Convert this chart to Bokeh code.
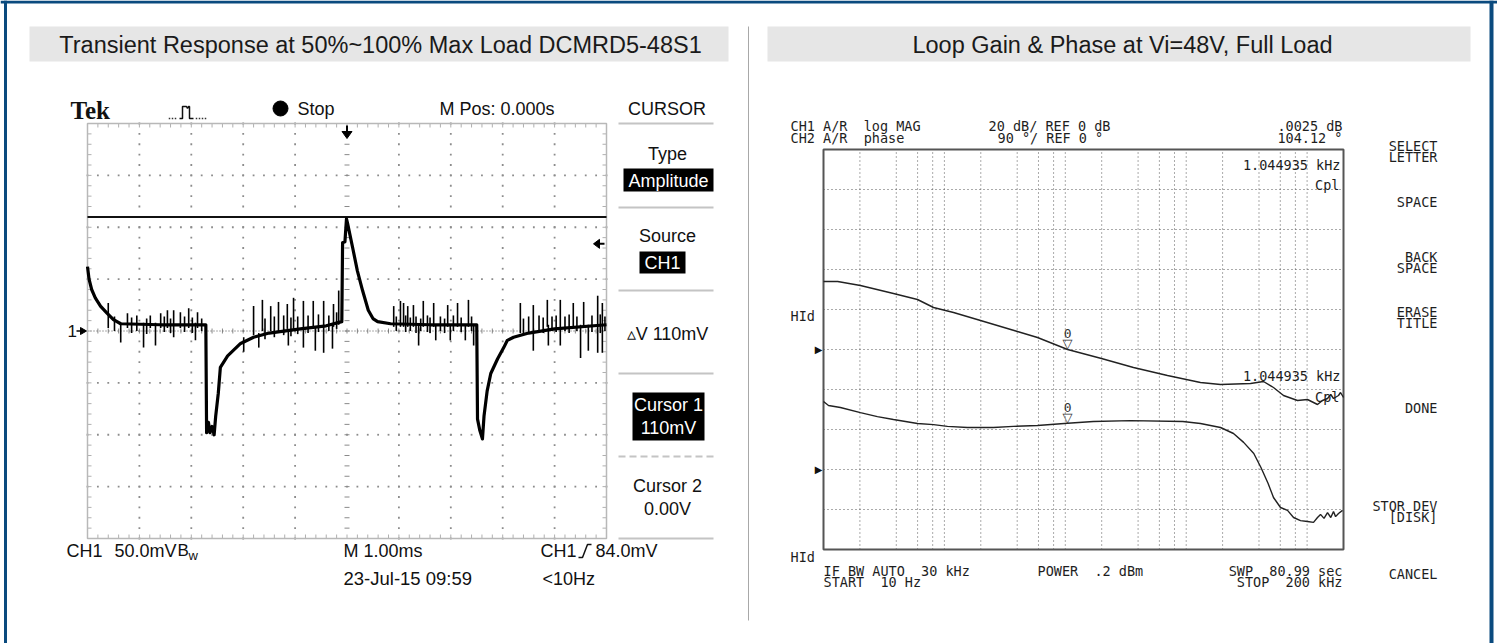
import numpy as np
from bokeh.plotting import figure
from bokeh.models import Range1d, LogScale
from bokeh.core.properties import value
from bokeh.embed import file_html
from bokeh.resources import INLINE

# ======================= DATA =======================
# Left panel: oscilloscope capture (time in ms, 1 ms/div; voltage in mV, 50 mV/div)
scope_time_divs_ms = [-5, -4, -3, -2, -1, 0, 1, 2, 3, 4, 5]
scope_volt_divs_mv = [-200, -150, -100, -50, 0, 50, 100, 150, 200]
scope_time_ms = [-5.00, -4.97, -4.92, -4.85, -4.75, -4.62, -4.50, -4.36, -3.60, -2.72,
                 -2.705, -2.67, -2.64, -2.60, -2.56, -2.53, -2.48, -2.44, -2.30, -2.05,
                 -1.80, -1.50, -0.90, -0.40, -0.10, -0.085, -0.04, -0.01, 0.01, 0.06,
                 0.11, 0.20, 0.30, 0.41, 0.50, 0.59, 0.84, 1.60, 2.50, 2.515,
                 2.56, 2.61, 2.64, 2.70, 2.77, 2.90, 3.02, 3.09, 3.21, 3.50,
                 4.00, 5.00]
scope_mv = [62, 50, 40, 32, 24, 17, 11, 7, 6, 6,
            -98, -88, -98, -92, -100, -82, -60, -35, -24, -12,
            -6, -2, 2, 5, 9, 85, 86, 108, 104, 92,
            80, 58, 39, 20, 12, 9, 7, 6, 6, -85,
            -96, -104, -82, -58, -41, -27, -16, -9, -6, -2,
            2, 6]
# noise spikes on the trace: time, upper and lower extent
spike_time_ms = [-4.60, -4.48, -4.36, -4.23, -4.15, -4.05, -3.92, -3.86, -3.79, -3.69, -3.59, -3.52,
                 -3.46, -3.40, -3.34, -3.21, -3.13, -3.05, -2.98, -2.92, -2.88, -2.80,
                 -1.99, -1.80, -1.70, -1.63, -1.58, -1.47, -1.40, -1.32, -1.22, -1.15, -1.13, -1.08,
                 -1.03, -0.95, -0.84, -0.75, -0.65, -0.61, -0.55, -0.45, -0.35, -0.28, -0.26, -0.20, -0.16,
                 0.90, 0.95, 1.03, 1.09, 1.13, 1.17, 1.22, 1.28, 1.33, 1.38, 1.42, 1.47, 1.55, 1.60,
                 1.67, 1.71, 1.80, 1.88, 1.94, 1.99, 2.05, 2.13, 2.20, 2.28, 2.34, 2.40, 2.44,
                 3.34, 3.40, 3.50, 3.59, 3.70, 3.78, 3.86, 3.88, 3.95, 4.03, 4.11, 4.20, 4.28, 4.36,
                 4.43, 4.50, 4.56, 4.65, 4.72, 4.83, 4.88, 4.92, 4.97]
spike_hi_mv = [27, 14, 8, 17, 13, 15, 8, 12, 15, 8, 17, 14,
               20, 12, 20, 18, 14, 22, 13, 8, 18, 12,
               -6, 24, -2, 30, 12, 24, 14, 28, 15, 26, 2, 13,
               32, 14, 29, 15, 29, 4, 16, 29, 15, 6, 26, 18, 39,
               24, 14, 29, 27, 15, 24, 13, 25, 14, 6, 12, 29, 15, 13,
               27, 6, 14, 12, 25, 6, 15, 27, 13, 6, 30, 14, 6,
               27, 12, 14, 25, 15, 13, 30, 6, 14, 15, 30, 14, 16, 27,
               14, 6, 28, 6, 15, 34, 16, 27, 14]
spike_lo_mv = [3, 0, -11, 3, -2, 0, -16, -3, 3, -14, 3, -1,
               3, -2, -6, 3, -1, 3, -2, -9, 3, 0,
               -20, -4, -16, 0, -8, 0, -6, 0, -4, 2, -14, -5,
               2, -3, -16, -2, 2, -19, -1, -21, 0, -17, 4, 2, 6,
               4, 0, 4, 4, -1, 4, 0, 4, -2, -14, 0, 4, -1, -2,
               4, -9, 0, -2, 4, -9, 0, 4, -1, -9, 4, 0, -14,
               -2, -4, -2, -19, 0, -2, 4, -14, 0, -1, -14, 0, -2, 4,
               0, -26, 4, -19, -1, -21, -2, -21, 0]
cursor1_mv = 110.0
trigger_level_mv = 84.0

# Right panel: loop gain & phase (frequency in Hz)
vna_start_hz = 10
vna_stop_hz = 200000
vna_db_per_div = 20
vna_deg_per_div = 90
vna_freq_grid_hz = [20, 40, 60, 80, 100, 200, 400, 600, 800, 1000, 2000, 4000, 6000, 8000,
                    10000, 20000, 40000, 60000, 80000, 100000]
gain_freq_hz = [10, 13.1, 20.2, 37.9, 59.9, 81.3, 119, 199, 402, 589,
                1045, 1991, 3664, 7000, 13120, 19230, 34040, 43570, 52720, 63800,
                83300, 100700, 121900, 134000, 147500, 157000, 165300, 181800, 189000, 200000]
gain_db = [34, 34, 32, 28, 25, 21, 18.5, 14.5, 9, 6,
           0, -4.5, -9, -13, -16.5, -17.5, -17, -16, -19, -23,
           -25.5, -25, -27.5, -25.5, -24.5, -22.5, -24.5, -23, -21.5, -24]
phase_freq_hz = [10, 11, 13.8, 20.2, 27.9, 37.9, 59.9, 81.3, 106, 155,
                 254, 372, 589, 1045, 1706, 3467, 9383, 13120, 19230, 24620,
                 29850, 36230, 41520, 47600, 52720, 60260, 68870, 77250, 88190, 100700,
                 113000, 121900, 129100, 138000, 147500, 157000, 165300, 172000, 181800, 196300]
phase_deg = [153, 144, 139.5, 128, 119, 112.5, 103.5, 101, 97, 94.5,
             94.5, 97, 99, 104, 108, 110, 108, 103.5, 94.5, 81,
             61, 36, 4.5, -31.5, -63, -85.5, -92, -108, -115, -117,
             -119, -108, -101, -110, -97, -108, -94.5, -106, -99, -92]
marker_freq_hz = 1044.935
marker_gain_db = 0.0025
marker_phase_deg = 104.12

# ======================= LAYOUT =======================
W, H = 1497, 643
BLUE = "#0a4a7e"
SANS = "Liberation Sans"
MONO = "DejaVu Sans Mono"
NB = "\u00a0"

# scope screen placement (pixels)
SC_L, SC_R, SC_T, SC_B = 87, 606, 123, 538
t_span = scope_time_divs_ms[-1] - scope_time_divs_ms[0]
v_span = scope_volt_divs_mv[-1] - scope_volt_divs_mv[0]
t_pp = t_span / (SC_R - SC_L)
v_pp = v_span / (SC_B - SC_T)
sc_row0 = SC_T + scope_volt_divs_mv[-1] / v_pp   # row of 0 mV
t0 = scope_time_divs_ms[0]

# analyzer placement (pixels)
VN_L, VN_R, VN_T, VN_B = 823, 1343, 149, 549
DB_REF_ROW, DEG_REF_ROW = 349, 469
dec_pp = np.log10(vna_stop_hz / vna_start_hz) / (VN_R - VN_L)
db_pp = vna_db_per_div / 40.0
deg_pp = vna_deg_per_div / 40.0

p = figure(width=W, height=H, x_range=Range1d(0, W), y_range=Range1d(H, 0),
           output_backend="svg", toolbar_location=None, min_border=0,
           x_axis_location=None, y_axis_location=None,
           background_fill_color="white", border_fill_color="white",
           outline_line_color=None)
p.grid.visible = False
p.extra_x_ranges = {
    "st": Range1d(t0 - SC_L * t_pp, t0 + (W - SC_L) * t_pp),
    "vf": Range1d(10 ** (np.log10(vna_start_hz) - VN_L * dec_pp),
                  10 ** (np.log10(vna_start_hz) + (W - VN_L) * dec_pp)),
}
p.extra_x_scales = {"vf": LogScale()}
p.extra_y_ranges = {
    "sv": Range1d(-(H - sc_row0) * v_pp, sc_row0 * v_pp),
    "db": Range1d(-(H - DB_REF_ROW) * db_pp, DB_REF_ROW * db_pp),
    "deg": Range1d(-(H - DEG_REF_ROW) * deg_pp, DEG_REF_ROW * deg_pp),
}


def txt(x, y, s, size, font=SANS, color="#111111", align="left", baseline="middle",
        style="normal", xr="default", yr="default", xo=0, yo=0):
    s = s.replace(" ", NB)
    p.text(x=[x], y=[y], text=[s], x_range_name=xr, y_range_name=yr,
           text_font=value(font), text_font_size=f"{size}px", text_color=color,
           text_align=align, text_baseline=baseline, text_font_style=style,
           x_offset=xo, y_offset=yo)


# ---------- page frame ----------
p.line([5, 5], [0, H], line_color=BLUE, line_width=3)
p.line([0, W], [1.5, 1.5], line_color=BLUE, line_width=3)
p.line([1491, 1491], [0, H], line_color=BLUE, line_width=4)
p.quad(left=[29, 767], right=[728, 1470], top=[26, 26], bottom=[61, 61],
       fill_color="#e6e6e6", line_color=None)
txt(380, 44, "Transient Response at 50%~100% Max Load DCMRD5-48S1", 23.5, color="#1a1a1a", align="center")
txt(1122, 44, "Loop Gain & Phase at Vi=48V, Full Load", 23.5, color="#1a1a1a", align="center")
p.line([748, 748], [26, 620], line_color="#a8a8a8", line_width=1)

# ---------- oscilloscope ----------
S = dict(x_range_name="st", y_range_name="sv")
tl, tr = scope_time_divs_ms[0], scope_time_divs_ms[-1]
vb, vt = scope_volt_divs_mv[0], scope_volt_divs_mv[-1]
minor_t = np.arange(tl, tr + 1e-9, 0.2)
minor_v = np.arange(vb, vt + 1e-9, 10)
dx, dy = [], []
for t in scope_time_divs_ms[1:-1]:
    if t != 0:
        dx += [t] * len(minor_v); dy += list(minor_v)
for v in scope_volt_divs_mv[1:-1]:
    if v != 0:
        dx += list(minor_t); dy += [v] * len(minor_t)
p.scatter(dx, dy, marker="square", size=1.8, fill_color="#8c8c8c", line_color=None, **S)
tk = 4
# center cross ticks
p.segment(x0=[-2.5 * t_pp] * len(minor_v), x1=[2.5 * t_pp] * len(minor_v), y0=minor_v, y1=minor_v,
          line_color="#8a8a8a", line_width=1, **S)
p.segment(x0=minor_t, x1=minor_t, y0=[-2.5 * v_pp] * len(minor_t), y1=[2.5 * v_pp] * len(minor_t),
          line_color="#8a8a8a", line_width=1, **S)
p.segment(x0=[tl], x1=[tr], y0=[0], y1=[0], line_color="#555555", line_dash="1 2", line_width=1, **S)
# edge ticks
p.segment(x0=minor_t, x1=minor_t, y0=[vt] * len(minor_t), y1=[vt - tk * v_pp] * len(minor_t),
          line_color="#b0b0b0", **S)
p.segment(x0=minor_t, x1=minor_t, y0=[vb] * len(minor_t), y1=[vb + tk * v_pp] * len(minor_t),
          line_color="#b0b0b0", **S)
p.segment(x0=[tl] * len(minor_v), x1=[tl + tk * t_pp] * len(minor_v), y0=minor_v, y1=minor_v,
          line_color="#b0b0b0", **S)
p.segment(x0=[tr] * len(minor_v), x1=[tr - tk * t_pp] * len(minor_v), y0=minor_v, y1=minor_v,
          line_color="#b0b0b0", **S)
p.quad(left=[tl], right=[tr], top=[vt], bottom=[vb], fill_color=None,
       line_color="#b8b8b8", line_width=1.5, **S)
# cursor line
p.segment(x0=[tl], x1=[tr], y0=[cursor1_mv], y1=[cursor1_mv], line_color="#111111", line_width=2, **S)
# trace
p.line(scope_time_ms, scope_mv, line_color="#000000", line_width=3.2, line_join="round", **S)
p.segment(x0=spike_time_ms, x1=spike_time_ms, y0=spike_hi_mv, y1=spike_lo_mv,
          line_color="#000000", line_width=1.6, **S)

# markers: trigger position (top), trigger level (right), ch1 ground (left)
cx = (SC_L + SC_R) / 2
p.patch([cx - 5, cx + 5, cx], [131, 131, 138], fill_color="black", line_color="black")
p.line([cx, cx], [125, 132], line_color="black", line_width=2)
trig_row = sc_row0 - trigger_level_mv / v_pp
p.patch([593, 599, 599], [trig_row, trig_row - 4.5, trig_row + 4.5], fill_color="black", line_color="black")
p.line([598, 604], [trig_row, trig_row], line_color="black", line_width=2)
txt(67, sc_row0, "1", 17, color="#111111")
p.patch([86, 80, 80], [sc_row0, sc_row0 - 3.5, sc_row0 + 3.5], fill_color="black", line_color="black")
p.line([76, 81], [sc_row0, sc_row0], line_color="black", line_width=1.5)

# top status line
txt(70, 110, "Tek", 25, font="Liberation Serif", style="bold", color="#111111")
p.line([179, 182, 182, 186, 187, 188, 189, 189, 193], [118, 118, 106, 106, 108, 106, 106, 118, 118],
       line_color="#111111", line_width=1.5)
p.scatter([169, 172, 175, 196, 199, 202, 205], [118] * 7, marker="square", size=1.5,
          fill_color="#333333", line_color=None)
p.scatter([280], [108], marker="circle", size=15, fill_color="black", line_color="black")
txt(297, 108, "Stop", 18)
txt(496.5, 108, "M Pos: 0.000s", 18, align="center")
txt(666.5, 108, "CURSOR", 18, align="center")

# right menu
for r in [123, 207, 290, 373, 538]:
    p.line([618, 713], [r, r], line_color="#c4c4c4", line_width=2)
p.line([618, 713], [456, 456], line_color="#c4c4c4", line_width=2, line_dash="7 4")
p.quad(left=[623, 639, 632], right=[713, 685, 704], top=[168, 251, 392], bottom=[191, 273, 440],
       fill_color="black", line_color=None)
txt(667, 153, "Type", 18, align="center")
txt(668, 180, "Amplitude", 18, align="center", color="white")
txt(667, 235, "Source", 18, align="center")
txt(662, 262, "CH1", 18, align="center", color="white")
txt(667, 333, "\u25b5V 110mV", 18, align="center")
txt(668, 404, "Cursor 1", 18, align="center", color="white")
txt(668, 427, "110mV", 18, align="center", color="white")
txt(667, 485, "Cursor 2", 18, align="center")
txt(667, 508, "0.00V", 18, align="center")

# bottom status
txt(66, 550, "CH1", 18)
txt(114, 550, "50.0mV", 18)
txt(177, 550, "B", 17)
txt(188, 555, "w", 13)
txt(343, 550, "M 1.00ms", 18)
txt(343, 578, "23-Jul-15 09:59", 18.5)
txt(540, 550, "CH1", 18)
p.line([578, 582, 587, 591], [557, 557, 544, 544], line_color="#111111", line_width=1.5)
txt(595, 550, "84.0mV", 18)
txt(542, 578, "<10Hz", 18)

# ---------- network analyzer ----------
V = dict(x_range_name="vf", y_range_name="db")
db_top = 5 * vna_db_per_div
db_grid = [d for d in range(-db_top, db_top + 1, vna_db_per_div)]
p.segment(x0=vna_freq_grid_hz, x1=vna_freq_grid_hz, y0=[-db_top] * len(vna_freq_grid_hz),
          y1=[db_top] * len(vna_freq_grid_hz), line_color="#555555", line_dash="1 3", line_width=1, **V)
inner = db_grid[1:-1]
p.segment(x0=[vna_start_hz] * len(inner), x1=[vna_stop_hz] * len(inner), y0=inner, y1=inner,
          line_color="#555555", line_dash="1 3", line_width=1, **V)
p.quad(left=[vna_start_hz], right=[vna_stop_hz], top=[db_top], bottom=[-db_top],
       fill_color=None, line_color="#555555", line_width=2, **V)
p.line(gain_freq_hz, gain_db, line_color="#222222", line_width=1.4, **V)
p.line(phase_freq_hz, phase_deg, line_color="#222222", line_width=1.4, x_range_name="vf", y_range_name="deg")

# marker symbols
txt(marker_freq_hz, marker_gain_db, "\u25bd", 13, font="DejaVu Sans", align="center", baseline="bottom",
    color="#333333", xr="vf", yr="db", yo=2)
txt(marker_freq_hz, marker_gain_db, "0", 13, font=MONO, align="center", baseline="bottom",
    color="#333333", xr="vf", yr="db", yo=-11)
txt(marker_freq_hz, marker_phase_deg, "\u25bd", 13, font="DejaVu Sans", align="center", baseline="bottom",
    color="#333333", xr="vf", yr="deg", yo=2)
txt(marker_freq_hz, marker_phase_deg, "0", 13, font=MONO, align="center", baseline="bottom",
    color="#333333", xr="vf", yr="deg", yo=-11)
# reference level pointers
txt(818, 0, "\u25b6", 10, font="DejaVu Sans", align="center", color="#111111", yr="db")
txt(818, 0, "\u25b6", 10, font="DejaVu Sans", align="center", color="#111111", yr="deg")

M = 13.5
MC = "#1e1e1e"
txt(790, 125.5, "CH1 A/R  log MAG", M, font=MONO, color=MC)
txt(790, 137.5, "CH2 A/R  phase", M, font=MONO, color=MC)
txt(988, 125.5, "20 dB/ REF 0 dB", M, font=MONO, color=MC)
txt(997, 137.5, "90 \u00b0/ REF 0 \u00b0", M, font=MONO, color=MC)
txt(1342, 125.5, ".0025 dB", M, font=MONO, color=MC, align="right")
txt(1342, 137.5, "104.12 \u00b0", M, font=MONO, color=MC, align="right")
txt(1340, 164, "1.044935 kHz", M, font=MONO, color=MC, align="right")
txt(1339, 184, "Cpl", M, font=MONO, color=MC, align="right")
txt(1340, 375.5, "1.044935 kHz", M, font=MONO, color=MC, align="right")
txt(1339, 396, "Cpl", M, font=MONO, color=MC, align="right")
txt(790, 315, "HId", M, font=MONO, color=MC)
txt(790, 556, "HId", M, font=MONO, color=MC)
txt(823, 570, "IF BW AUTO  30 kHz", M, font=MONO, color=MC)
txt(823, 581.5, "START  10 Hz", M, font=MONO, color=MC)
txt(1037, 570, "POWER  .2 dBm", M, font=MONO, color=MC)
txt(1342, 570, "SWP  80.99 sec", M, font=MONO, color=MC, align="right")
txt(1342, 581.5, "STOP  200 kHz", M, font=MONO, color=MC, align="right")
for s, r in [("SELECT", 145), ("LETTER", 156.5), ("SPACE", 201), ("BACK", 256), ("SPACE", 267),
             ("ERASE", 311), ("TITLE", 322), ("DONE", 407), ("STOR DEV", 505), ("[DISK]", 516),
             ("CANCEL", 573)]:
    txt(1437, r, s, M, font=MONO, color=MC, align="right")

open("out.html", "w").write(file_html(p, INLINE))
